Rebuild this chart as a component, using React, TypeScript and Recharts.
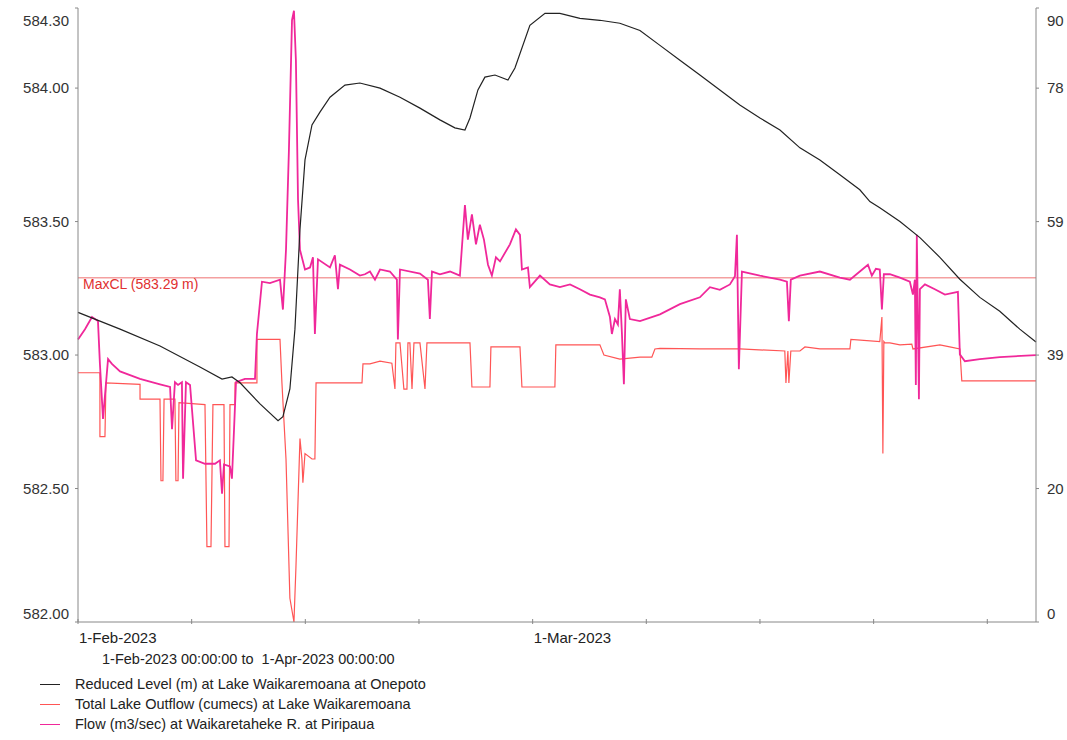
import { LineChart, Line, XAxis, YAxis, ReferenceLine } from "recharts"

// day offset from 1-Feb-2023, value
const LEVEL_DAYS = [0, 2.59, 5.05, 7.51, 8.87, 9.48, 9.98, 11.21, 12.32, 12.62, 13.05, 13.36, 13.67, 13.98, 14.41, 14.9, 15.52, 16.44, 17.36, 18.6, 19.83, 21.06, 22.29, 23.21, 23.83, 24.14, 24.63, 25.06, 25.68, 26.48, 26.91, 27.83, 28.76, 29.68, 30.91, 32.14, 33.37, 34.61, 35.84, 37.07, 38.3, 39.53, 40.76, 42, 43.23, 44.46, 45.69, 46.92, 48.15, 48.77, 49.38, 50.62, 51.85, 53.08, 54.31, 55.54, 56.77, 58, 59]
const LEVEL_VALUES = [583.16, 583.097, 583.034, 582.955, 582.91, 582.918, 582.896, 582.817, 582.754, 582.769, 582.873, 583.097, 583.47, 583.731, 583.862, 583.91, 583.966, 584.011, 584.019, 584.0, 583.966, 583.925, 583.881, 583.851, 583.843, 583.888, 583.993, 584.041, 584.049, 584.03, 584.075, 584.235, 584.28, 584.28, 584.261, 584.254, 584.243, 584.216, 584.16, 584.104, 584.049, 583.993, 583.937, 583.888, 583.843, 583.776, 583.731, 583.675, 583.619, 583.575, 583.552, 583.5, 583.44, 583.366, 583.284, 583.216, 583.164, 583.097, 583.049]

const OUTFLOW_DAYS = [0, 1.35, 1.35, 1.66, 1.72, 3.82, 3.82, 5.05, 5.11, 5.23, 5.3, 5.97, 6.03, 6.16, 6.22, 7.82, 7.94, 8.19, 8.31, 8.99, 9.05, 9.3, 9.36, 9.67, 9.67, 11.02, 11.02, 12.44, 12.56, 12.81, 13.05, 13.3, 13.42, 13.67, 13.79, 13.85, 13.98, 14.41, 14.59, 14.66, 16.13, 17.49, 17.55, 17.98, 18.6, 19.33, 19.52, 19.58, 19.83, 20.07, 20.26, 20.32, 20.44, 20.57, 20.69, 21.06, 21.37, 21.49, 21.67, 24.14, 24.26, 24.63, 25.37, 25.43, 27.22, 27.34, 29.37, 29.43, 32.14, 32.39, 33.37, 34.61, 35.34, 35.53, 35.84, 38.3, 40.76, 43.53, 43.6, 43.72, 43.78, 43.9, 44.46, 44.77, 45.69, 47.54, 47.6, 49.38, 49.51, 49.57, 49.63, 49.69, 50, 50.62, 51.35, 51.42, 53.08, 53.69, 54.31, 54.43, 59]
const OUTFLOW_VALUES = [36.7, 36.7, 27.3, 27.3, 35.2, 35.0, 32.8, 32.8, 20.8, 20.8, 32.8, 32.8, 20.8, 20.8, 32.3, 32.0, 11.1, 11.1, 32.0, 32.0, 11.1, 11.1, 32.0, 32.0, 35.2, 35.2, 41.6, 41.6, 35.2, 24.0, 3.5, 0, 7.9, 27.0, 24.0, 20.5, 24.8, 24.0, 24.0, 35.2, 35.2, 35.2, 38.0, 38.0, 38.4, 38.1, 34.3, 41.1, 41.1, 34.3, 34.3, 41.1, 41.1, 34.3, 41.1, 41.1, 34.3, 41.1, 41.1, 41.1, 34.6, 34.6, 34.6, 40.5, 40.5, 34.6, 34.6, 40.8, 40.8, 39.3, 38.7, 39.0, 39.0, 40.2, 40.3, 40.2, 40.2, 39.9, 35.2, 39.9, 35.2, 39.9, 39.9, 40.5, 40.2, 40.2, 41.6, 41.3, 44.9, 24.8, 41.3, 41.1, 41.1, 40.8, 40.9, 40.2, 40.8, 40.5, 40.2, 35.5, 35.5]

const FLOW_DAYS = [0, 0.43, 0.86, 1.23, 1.35, 1.54, 1.85, 2.09, 2.59, 3.82, 5.05, 5.67, 5.79, 5.97, 6.16, 6.4, 6.47, 6.65, 6.9, 7.27, 7.82, 8.44, 8.74, 8.87, 8.99, 9.36, 9.48, 9.61, 9.73, 10.28, 10.9, 11.02, 11.33, 11.82, 12.44, 12.62, 12.81, 12.99, 13.18, 13.3, 13.42, 13.55, 13.67, 13.98, 14.29, 14.47, 14.59, 14.78, 15.52, 15.82, 16.01, 16.13, 16.75, 17.36, 17.67, 17.98, 18.29, 18.6, 19.21, 19.64, 19.7, 19.83, 21.06, 21.55, 21.67, 21.8, 22.29, 22.91, 23.52, 23.83, 24.01, 24.26, 24.51, 24.75, 25, 25.25, 25.49, 25.74, 25.99, 26.6, 26.97, 27.22, 27.34, 27.71, 27.83, 28.45, 29.06, 29.68, 30.3, 30.91, 31.53, 32.14, 32.45, 32.76, 32.88, 33.07, 33.25, 33.37, 33.5, 33.62, 33.74, 33.99, 34.61, 35.84, 37.07, 38.3, 38.92, 39.53, 40.15, 40.46, 40.58, 40.7, 40.89, 41.99, 43.23, 43.66, 43.78, 43.9, 44.46, 45.69, 46.92, 47.54, 48.15, 48.65, 48.89, 49.14, 49.38, 49.51, 49.63, 50, 50.62, 51.23, 51.42, 51.54, 51.6, 51.66, 51.79, 51.85, 52.16, 52.77, 53.39, 54.19, 54.31, 54.62, 55.54, 56.77, 59]
const FLOW_VALUES = [41.6, 43.1, 44.9, 44.3, 38.0, 29.9, 38.7, 38.0, 36.9, 35.8, 35.0, 34.6, 28.4, 35.3, 34.9, 35.3, 21.1, 35.3, 34.9, 23.8, 23.3, 23.3, 23.8, 18.9, 23.2, 22.9, 21.1, 28.4, 35.3, 35.8, 35.8, 42.4, 50.1, 49.9, 50.4, 46.0, 54.8, 69.5, 88.6, 90.0, 82.7, 62.2, 54.8, 51.9, 52.2, 53.7, 42.4, 53.4, 52.2, 54.0, 49.0, 52.6, 51.9, 51.0, 51.2, 51.6, 50.4, 51.9, 51.6, 50.4, 41.6, 51.9, 51.3, 50.4, 44.6, 51.6, 51.2, 51.6, 51.0, 61.4, 56.3, 60.0, 55.6, 58.5, 56.3, 52.6, 51.0, 53.7, 53.1, 55.6, 57.8, 57.0, 51.9, 52.2, 49.3, 51.0, 49.7, 49.3, 49.7, 49.0, 48.2, 47.8, 47.5, 44.9, 42.4, 44.6, 43.8, 49.0, 42.4, 35.0, 47.5, 44.6, 44.3, 45.3, 46.8, 47.8, 49.3, 48.9, 49.7, 50.9, 57.0, 37.2, 51.6, 51.0, 50.4, 50.1, 44.3, 50.4, 51.0, 51.6, 50.7, 50.4, 51.6, 52.6, 51.0, 52.0, 51.9, 46.0, 51.2, 51.2, 50.7, 50.1, 48.2, 50.4, 34.9, 57.0, 32.8, 49.0, 49.7, 49.0, 48.2, 48.6, 39.4, 38.4, 38.7, 39.0, 39.3]

const LEFT_TICKS = [582, 582.5, 583, 583.5, 584, 584.3]
const RIGHT_TICKS = [0, 19.65, 39.3, 58.95, 78.6, 90.4]
const RIGHT_LABELS = ["0", "20", "39", "59", "78", "90"]
const X_TICKS = [0, 7, 14, 21, 28, 35, 42, 49, 56]
const X_LABELS: Record<number, string> = { 0: "1-Feb-2023", 28: "1-Mar-2023" }
const MAX_CL = 583.29

const SERIES = [
  { name: "Reduced Level (m) at Lake Waikaremoana at Onepoto", color: "#222222" },
  { name: "Total Lake Outflow (cumecs) at Lake Waikaremoana", color: "#ff5555" },
  { name: "Flow (m3/sec) at Waikaretaheke R. at Piripaua", color: "#f0289a" },
]

const zip = (d: number[], v: number[]) => d.map((x, i) => ({ x, y: v[i] }))

const FONT = "Arial, 'Liberation Sans', sans-serif"

const BottomTick = (props: any) => {
  const { x, y, payload } = props
  const label = X_LABELS[payload.value]
  return (
    <g>
      <line x1={x} x2={x} y1={y} y2={y - 5} stroke="#888" />
      {label && (
        <text x={x + 1} y={y + 19} textAnchor="start" fontSize={15} fill="#222" fontFamily={FONT}>
          {label}
        </text>
      )}
    </g>
  )
}

const TopTick = (props: any) => {
  const { x, y } = props
  return <line x1={x} x2={x} y1={y} y2={y + 5} stroke="#888" />
}

const edgeShift = (i: number, n: number) => (i === 0 ? -8 : i === n - 1 ? 12 : 0)

const LeftTick = (props: any) => {
  const { x, y, payload, index } = props
  return (
    <text x={x - 4} y={y + 5 + edgeShift(index, LEFT_TICKS.length)} textAnchor="end" fontSize={15} fill="#333" fontFamily={FONT}>
      {payload.value.toFixed(2)}
    </text>
  )
}

const RightTick = (props: any) => {
  const { x, y, index } = props
  return (
    <text x={x + 6} y={y + 5 + edgeShift(index, RIGHT_TICKS.length)} textAnchor="start" fontSize={15} fill="#333" fontFamily={FONT}>
      {RIGHT_LABELS[index]}
    </text>
  )
}

export default function App() {
  return (
    <div style={{ position: "absolute", left: 0, top: 0, width: 1067, height: 740, background: "#fff", fontFamily: FONT }}>
      <LineChart width={1067} height={740} margin={{ top: 8, right: 0, bottom: 98, left: 8 }}>
        <XAxis xAxisId="b" dataKey="x" type="number" domain={[0, 59]} ticks={X_TICKS} tickSize={0} tick={<BottomTick />} stroke="#888" allowDuplicatedCategory={false} height={20} />
        <XAxis xAxisId="t" orientation="top" type="number" domain={[0, 59]} ticks={X_TICKS} tickSize={0} tick={<TopTick />} stroke="#888" height={0} />
        <YAxis yAxisId="l" type="number" domain={[582, 584.3]} ticks={LEFT_TICKS} tickSize={3} tick={<LeftTick />} stroke="#888" width={70} />
        <YAxis yAxisId="r" orientation="right" type="number" domain={[0, 90.4]} ticks={RIGHT_TICKS} tickSize={3} tick={<RightTick />} stroke="#888" width={31} />
        <ReferenceLine xAxisId="b" yAxisId="l" y={MAX_CL} stroke="#f4a0a0" strokeWidth={1.5}
          label={{ value: `MaxCL (${MAX_CL} m)`, position: "insideTopLeft", fill: "#e03030", fontSize: 14, fontFamily: FONT, dx: 0, dy: -4 }} />
        <Line xAxisId="b" yAxisId="r" data={zip(OUTFLOW_DAYS, OUTFLOW_VALUES)} dataKey="y" type="linear" stroke={SERIES[1].color} strokeWidth={1.2} dot={false} isAnimationActive={false} />
        <Line xAxisId="b" yAxisId="r" data={zip(FLOW_DAYS, FLOW_VALUES)} dataKey="y" type="linear" stroke={SERIES[2].color} strokeWidth={1.8} dot={false} isAnimationActive={false} />
        <Line xAxisId="b" yAxisId="l" data={zip(LEVEL_DAYS, LEVEL_VALUES)} dataKey="y" type="linear" stroke={SERIES[0].color} strokeWidth={1.2} dot={false} isAnimationActive={false} />
      </LineChart>
      <div style={{ position: "absolute", left: 102, top: 651, fontSize: 14.5, color: "#222" }}>
        1-Feb-2023 00:00:00 to&nbsp; 1-Apr-2023 00:00:00
      </div>
      {SERIES.map((s, i) => (
        <div key={s.name} style={{ position: "absolute", left: 40, top: 676 + i * 20, fontSize: 14.5, color: "#222", display: "flex", alignItems: "center" }}>
          <span style={{ display: "inline-block", width: 20, height: 0, borderTop: `1.5px solid ${s.color}`, marginRight: 15 }} />
          {s.name}
        </div>
      ))}
    </div>
  )
}
